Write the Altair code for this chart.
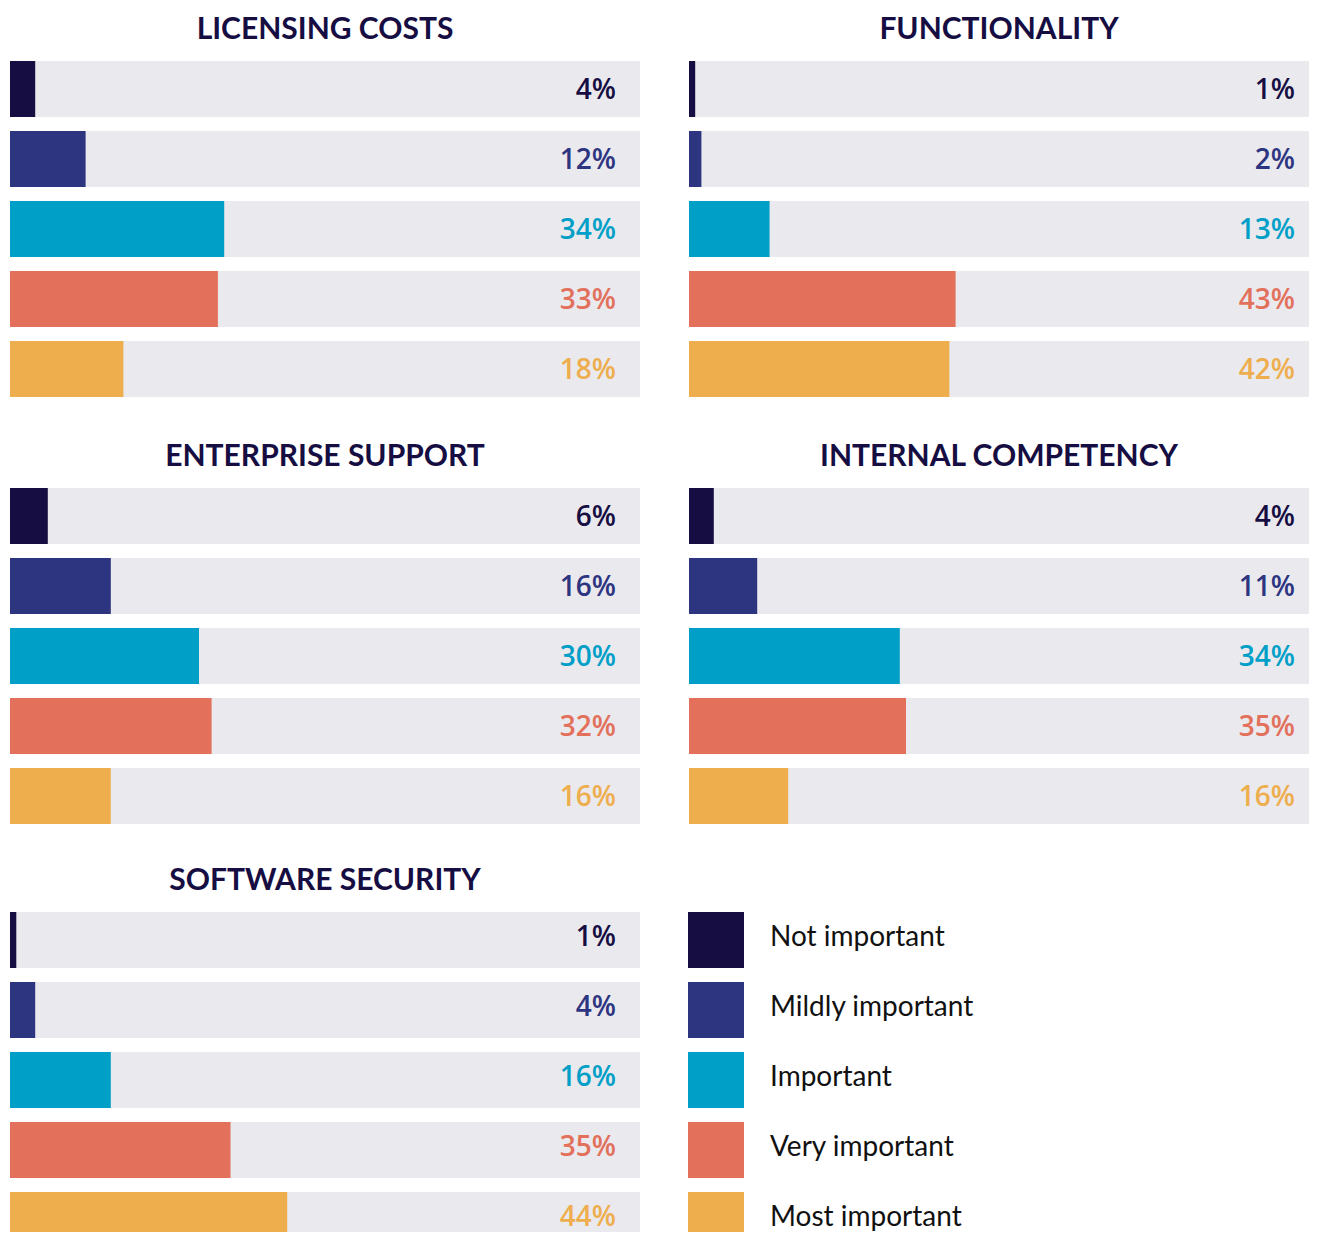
import altair as alt
import pandas as pd

levels = ["Not important", "Mildly important", "Important", "Very important", "Most important"]
colors = ["#160E42", "#2D3480", "#009FC7", "#E2705B", "#EEAE4E"]

panels = ["LICENSING COSTS", "FUNCTIONALITY", "ENTERPRISE SUPPORT", "INTERNAL COMPETENCY", "SOFTWARE SECURITY"]
licensing_costs = [4, 12, 34, 33, 18]
functionality = [1, 2, 13, 43, 42]
enterprise_support = [6, 16, 30, 32, 16]
internal_competency = [4, 11, 34, 35, 16]
software_security = [1, 4, 16, 35, 44]
series = [licensing_costs, functionality, enterprise_support, internal_competency, software_security]

rows = []
for p, vals in zip(panels, series):
    for lv, v in zip(levels, vals):
        rows.append({"panel": p, "level": lv, "value": v, "full": 100})
df = pd.DataFrame(rows)
legend_df = pd.DataFrame({"level": levels})

FONT = "Lato"
NUM_FONT = "Open Sans"
TITLE_COLOR = "#160E42"
BG = "#EAE9EE"
BAND = 336
color_scale = alt.Scale(domain=levels, range=colors)


def title(text):
    return alt.TitleParams(text=text, font=FONT, fontSize=30, fontWeight="bold",
                           color=TITLE_COLOR, anchor="middle", offset=16)


def yenc():
    return alt.Y("level:N", sort=levels, axis=None,
                 scale=alt.Scale(paddingInner=0.2, paddingOuter=0, range=[0, BAND]))


def panel(name, width, height=BAND, text_dy=2):
    label_pos = 606 / width * 100
    base = alt.Chart(df).transform_filter(alt.datum.panel == name).transform_calculate(
        label="datum.value + '%'"
    )
    y = yenc()
    xs = alt.Scale(domain=[0, 100], nice=False, zero=True)
    bg = base.mark_bar(color=BG, clip=True).encode(
        x=alt.X("full:Q", scale=xs, axis=None), y=y
    )
    bars = base.mark_bar(clip=True).encode(
        x=alt.X("value:Q", scale=xs, axis=None), y=y,
        color=alt.Color("level:N", scale=color_scale, sort=levels, legend=None),
    )
    txt = base.mark_text(align="right", baseline="middle", font=NUM_FONT, fontSize=28,
                         fontWeight=600, dy=text_dy, clip=True).encode(
        x=alt.datum(label_pos, scale=xs), y=y, text="label:N",
        color=alt.Color("level:N", scale=color_scale, sort=levels, legend=None),
    )
    return alt.layer(bg, bars, txt).properties(width=width, height=height, title=title(name))


def legend_panel(width, height):
    base = alt.Chart(legend_df)
    y = yenc()
    sw = base.mark_rect(clip=True).encode(
        x=alt.value(0), x2=alt.value(56), y=y,
        color=alt.Color("level:N", scale=color_scale, sort=levels, legend=None),
    )
    lab = base.mark_text(align="left", baseline="middle", font=FONT, fontSize=28,
                         color="#111111", dy=-2, clip=True).encode(
        x=alt.value(82), y=y, text="level:N"
    )
    return alt.layer(sw, lab).properties(width=width, height=height, title=title(" "))


LW, RW = 630, 620
H3 = 320
row1 = alt.hconcat(panel(panels[0], LW), panel(panels[1], RW), spacing=49)
row2 = alt.hconcat(panel(panels[2], LW), panel(panels[3], RW), spacing=49)
row3 = alt.hconcat(panel(panels[4], LW, H3, text_dy=-2), legend_panel(RW + 1, H3), spacing=48)

top = alt.vconcat(row1, row2, spacing=45)
chart = alt.vconcat(top, row3, spacing=42).properties(
    padding={"left": 2, "top": 7, "right": 0, "bottom": 0}
).configure(background="white").configure_view(stroke=None)

chart.save("out.html", embed_options={"renderer": "svg", "actions": False})
